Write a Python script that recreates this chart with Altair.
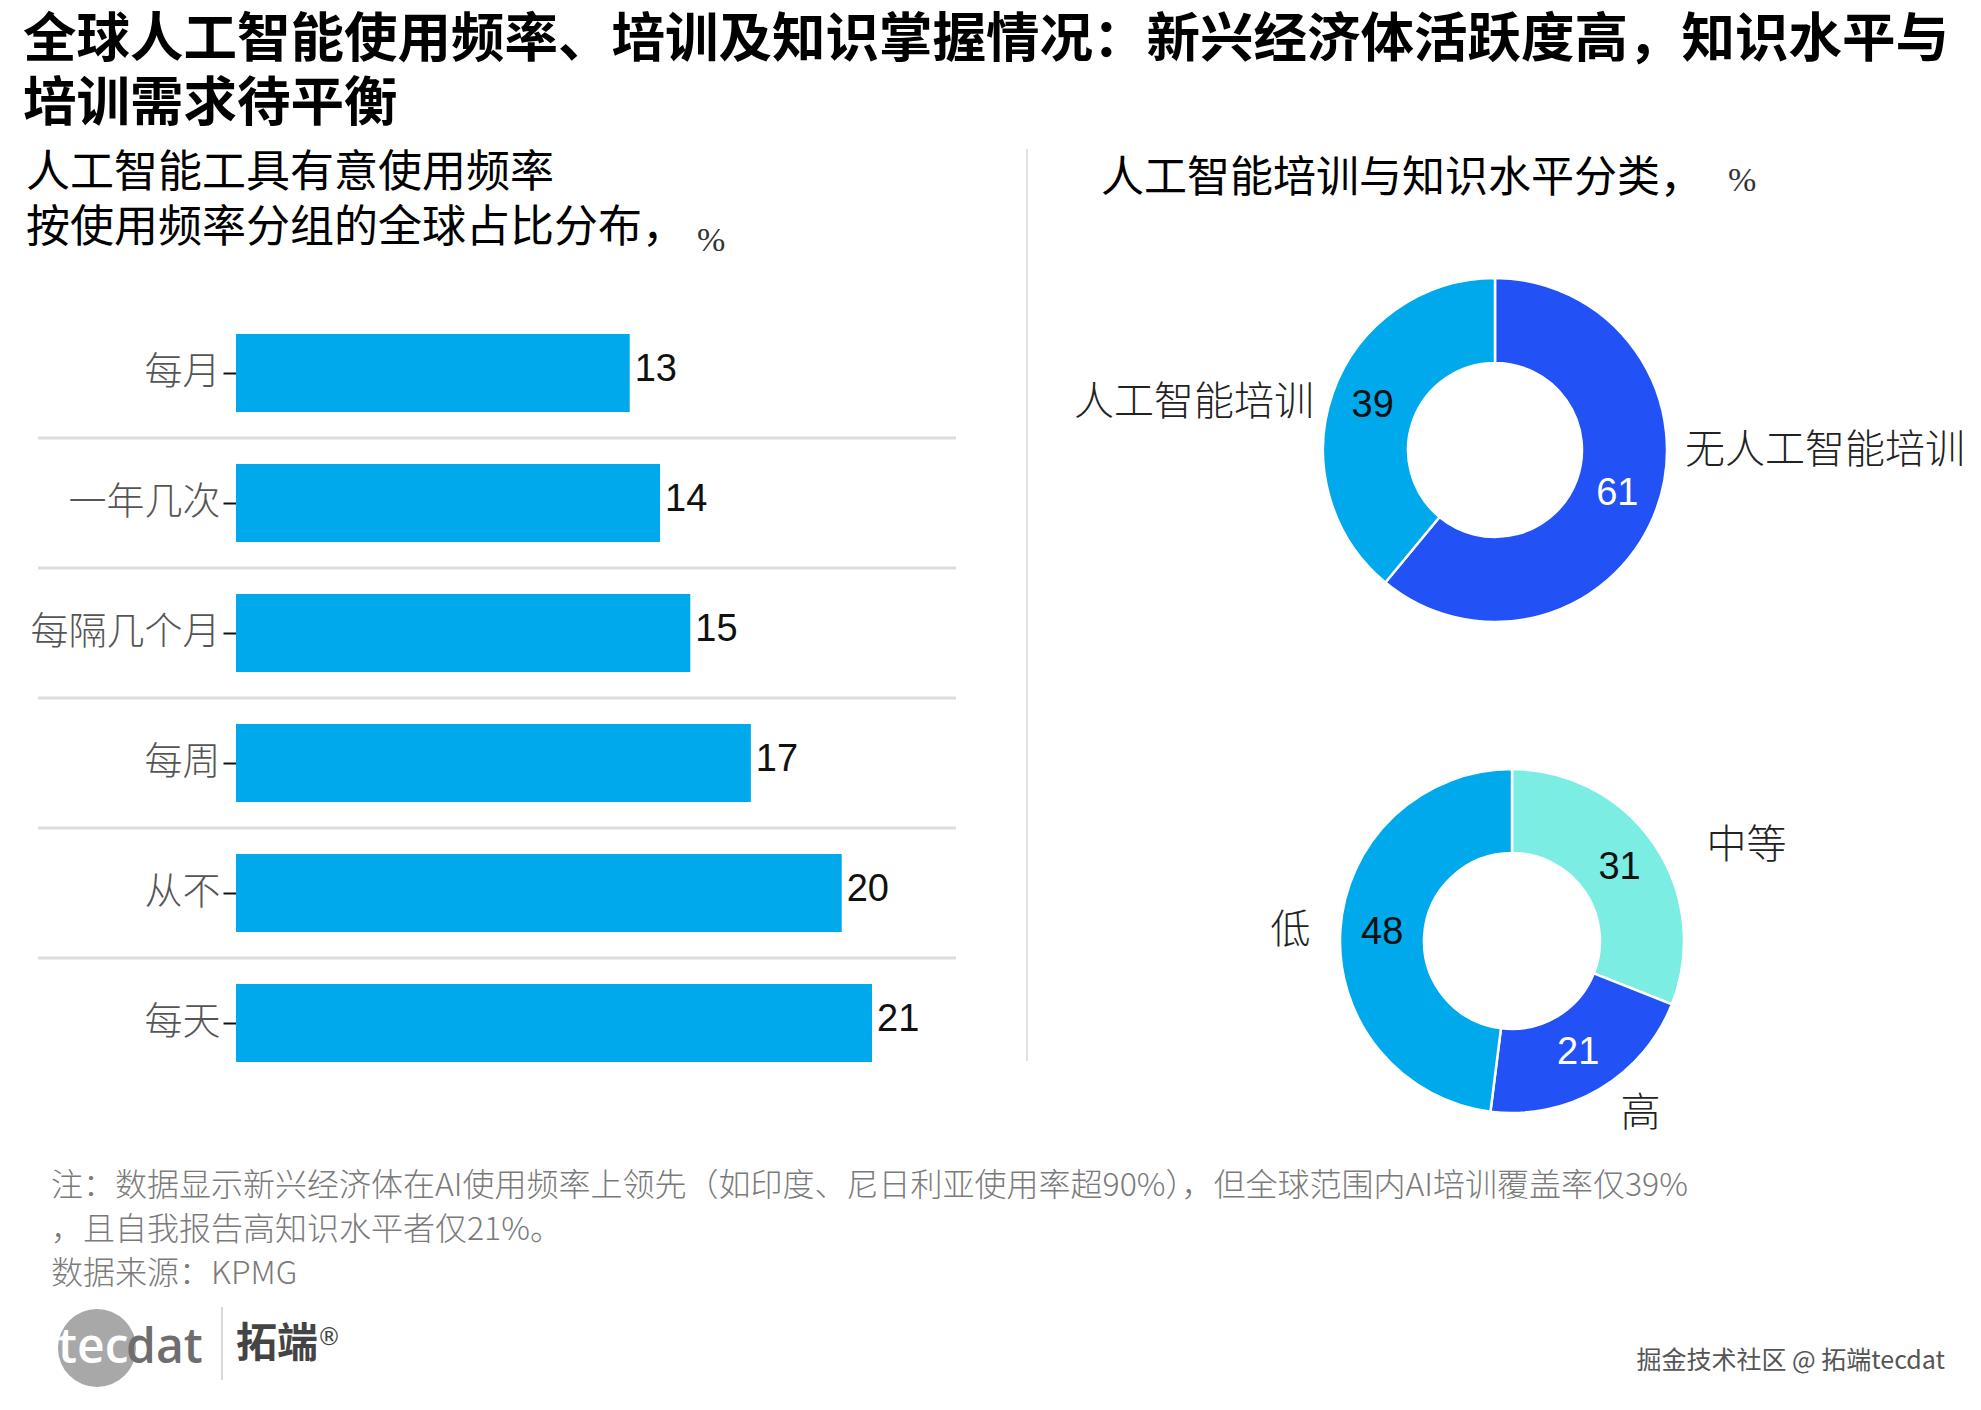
import math
import altair as alt
import pandas as pd

CJK = "Noto Sans CJK SC"
NUM = "Liberation Sans"

# ---------------- data ----------------
title_lines = ["全球人工智能使用频率、培训及知识掌握情况：新兴经济体活跃度高，知识水平与",
               "培训需求待平衡"]
left_title = ["人工智能工具有意使用频率", "按使用频率分组的全球占比分布，"]
right_title = "人工智能培训与知识水平分类，"
unit_text = "%"

freq_cats = ["每月", "一年几次", "每隔几个月", "每周", "从不", "每天"]
freq_vals = [13, 14, 15, 17, 20, 21]

train_cats = ["无人工智能培训", "人工智能培训"]
train_vals = [61, 39]

know_cats = ["中等", "高", "低"]
know_vals = [31, 21, 48]

notes = ["注：数据显示新兴经济体在AI使用频率上领先（如印度、尼日利亚使用率超90%），但全球范围内AI培训覆盖率仅39%",
         "，且自我报告高知识水平者仅21%。",
         "数据来源：KPMG"]
watermark = "掘金技术社区 @ 拓端tecdat"

# ---------------- styles ----------------
BAR_COLOR = "#00A9EC"
slice_domain = train_cats + know_cats
slice_range = ["#2251F5", "#00A9EC", "#7BEDE3", "#2251F5", "#00A9EC"]
dark_slices = ["无人工智能培训", "高"]


def text_layer(s, x, y, size, color="#000000", weight="normal", align="left",
               font=CJK, baseline="middle"):
    return alt.Chart(pd.DataFrame({"t": [s]})).mark_text(
        align=align, baseline=baseline, fontSize=size, font=font,
        fontWeight=weight, color=color
    ).encode(x=alt.value(x), y=alt.value(y), text="t:N")


layers = []

# titles
layers.append(text_layer(title_lines[0], 15, 33, 53.5, weight="bold"))
layers.append(text_layer(title_lines[1], 15, 97, 53.5, weight="bold"))
layers.append(text_layer(left_title[0], 18, 166, 44))
layers.append(text_layer(left_title[1], 18, 221, 44))
layers.append(text_layer(unit_text, 689, 233, 34, font="Liberation Serif", color="#333333"))
layers.append(text_layer(right_title, 1093, 171, 43))
layers.append(text_layer(unit_text, 1720, 173, 34, font="Liberation Serif", color="#333333"))

# ---------------- bar chart ----------------
bar_df = pd.DataFrame({"cat": freq_cats, "v": freq_vals})
ysc = alt.Scale(domain=freq_cats, range=[300, 1080], paddingInner=0.4, paddingOuter=0.2)
xsc = alt.Scale(domain=[0, 21], range=[228, 864], nice=False, zero=True)
y_axis = alt.Axis(title=None, domain=False, grid=False, ticks=True, tickColor="#111111",
                  tickSize=13, tickWidth=2, labelFont=CJK, labelFontSize=38,
                  labelColor="#555555", labelPadding=3, labelLimit=400,
                  labelFontWeight=300, offset=-228)
y_enc = alt.Y("cat:N", sort=freq_cats, scale=ysc, axis=y_axis)
x_enc = alt.X("v:Q", scale=xsc, axis=None)

seps = alt.Chart(pd.DataFrame({"cat": freq_cats[:-1]})).mark_rule(
    color="#DDDDDD", strokeWidth=3, yOffset=65
).encode(y=y_enc, x=alt.value(30), x2=alt.value(948))
bars = alt.Chart(bar_df).mark_bar(color=BAR_COLOR).encode(x=x_enc, y=y_enc)
bar_vals = alt.Chart(bar_df).mark_text(
    align="left", baseline="middle", dx=5, dy=-3, fontSize=38, font=NUM, color="#111111"
).encode(x=x_enc, y=y_enc, text="v:Q")
layers += [seps, bars, bar_vals]

# vertical divider
layers.append(alt.Chart(pd.DataFrame({"a": [0]})).mark_rule(color="#E2E2E2", strokeWidth=2)
              .encode(x=alt.value(1019), y=alt.value(141), y2=alt.value(1053)))

# ---------------- donuts ----------------
theta_sc = alt.Scale(domain=[0, 100], range=[0, 2 * math.pi])
color_sc = alt.Scale(domain=slice_domain, range=slice_range)
dark_test = " || ".join("datum.cat === '%s'" % c for c in dark_slices)


def donut(cats, vals, cx, cy, r_in, outside):
    df = pd.DataFrame({"cat": cats, "v": vals, "o": list(range(len(cats)))})
    arc = alt.Chart(df).mark_arc(outerRadius=172, innerRadius=r_in, stroke="white",
                                 strokeWidth=2.5).encode(
        theta=alt.Theta("v:Q", stack=True, scale=theta_sc),
        order=alt.Order("o:Q"),
        color=alt.Color("cat:N", scale=color_sc, legend=None),
        x=alt.value(cx), y=alt.value(cy))
    base = alt.Chart(df).transform_window(
        cum="sum(v)", sort=[alt.SortField("o")], frame=[None, 0]
    ).transform_calculate(mid="datum.cum - datum.v / 2")
    vals_t = base.mark_text(fontSize=38, font=NUM, baseline="middle", align="center").encode(
        theta=alt.Theta("mid:Q", scale=theta_sc), radius=alt.value(130),
        x=alt.value(cx), y=alt.value(cy), text="v:Q",
        color=alt.condition(dark_test, alt.value("white"), alt.value("#111111")))
    out = [arc, vals_t]
    for name, align, r, dx, dy in outside:
        out.append(base.transform_filter(alt.datum.cat == name).mark_text(
            fontSize=40, font=CJK, fontWeight=300, color="#222222", baseline="middle",
            align=align, dx=dx, dy=dy
        ).encode(theta=alt.Theta("mid:Q", scale=theta_sc), radius=alt.value(r),
                 x=alt.value(cx), y=alt.value(cy), text="cat:N"))
    return out


layers += donut(train_cats, train_vals, 1487, 442, 87,
                [("人工智能培训", "right", 185, -7, 16),
                 ("无人工智能培训", "left", 185, 16, -62)])
layers += donut(know_cats, know_vals, 1504, 933, 88,
                [("中等", "left", 217, 15, 27),
                 ("高", "center", 215, 19, -12),
                 ("低", "right", 202, 0, 3)])

# ---------------- footer ----------------
layers.append(text_layer(notes[0], 43, 1178, 32, color="#7A7A7A", weight=300))
layers.append(text_layer(notes[1], 43, 1222, 32, color="#7A7A7A", weight=300))
layers.append(text_layer(notes[2], 43, 1266, 32, color="#7A7A7A", weight=300))

# logo
layers.append(alt.Chart(pd.DataFrame({"a": [0]})).mark_circle(color="#A8A8A8", opacity=1, size=6100)
              .encode(x=alt.value(89), y=alt.value(1340)))
layers.append(text_layer("tec", 50, 1355, 48, color="#FFFFFF", weight=600, font="Open Sans",
                         baseline="alphabetic"))
layers.append(text_layer("dat", 118, 1355, 48, color="#6E6E6E", weight=600, font="Open Sans",
                         baseline="alphabetic"))
layers.append(alt.Chart(pd.DataFrame({"a": [0]})).mark_rule(color="#CCCCCC", strokeWidth=1.5)
              .encode(x=alt.value(214), y=alt.value(1299), y2=alt.value(1372)))
layers.append(text_layer("拓端", 228, 1337, 41, color="#444444", weight="bold"))
layers.append(text_layer("®", 309, 1330, 24, color="#444444", font="DejaVu Sans"))
layers.append(text_layer(watermark, 1937, 1353, 25, color="#555555", align="right"))

chart = alt.layer(*layers).properties(
    width=1960, height=1385,
    autosize=alt.AutoSizeParams(type="none"),
    padding=0, background="white"
).configure_view(stroke="transparent")

chart.save("out.html", embed_options={"renderer": "svg", "actions": False})
